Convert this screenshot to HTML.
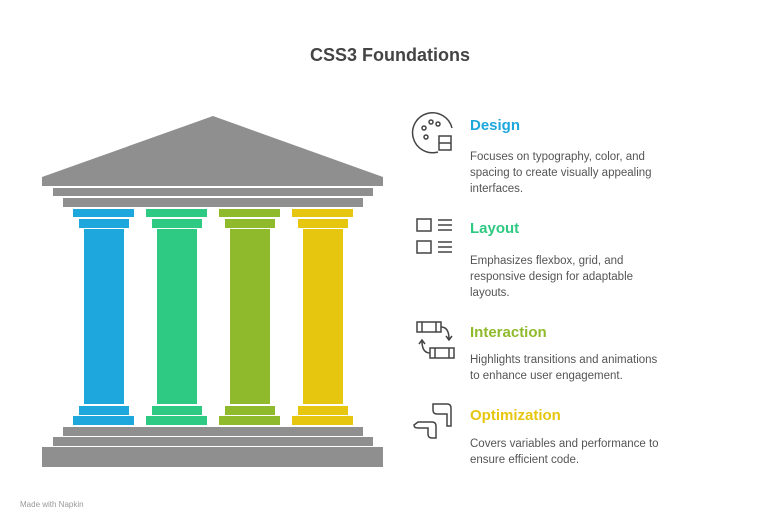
<!DOCTYPE html>
<html><head><meta charset="utf-8"><style>
body{margin:0;width:780px;height:530px;background:#fff;overflow:hidden;font-family:"Liberation Sans",sans-serif;position:relative}
.t{position:absolute;white-space:nowrap}
.h{font-weight:bold;font-size:15px}
.d{font-size:11.5px;color:#555;line-height:16px}
</style></head><body>
<svg width="780" height="530" style="position:absolute;left:0;top:0">
<g fill="#8f8f8f">
<polygon points="213,116 383,177 383,186 42,186 42,177"/>
<rect x="53" y="188" width="320" height="8"/>
<rect x="63" y="198" width="300" height="9"/>
<rect x="63" y="427" width="300" height="9"/>
<rect x="53" y="437" width="320" height="9"/>
<rect x="42" y="447" width="341" height="20"/>
</g>
<g id="c">
</g>
<g fill="#1ea7dc"><rect x="73" y="209" width="61" height="8"/><rect x="79" y="219" width="50" height="9"/><rect x="84" y="229" width="40" height="175"/><rect x="79" y="406" width="50" height="9"/><rect x="73" y="416" width="61" height="9"/></g>
<g fill="#2ec982" transform="translate(73,0)"><rect x="73" y="209" width="61" height="8"/><rect x="79" y="219" width="50" height="9"/><rect x="84" y="229" width="40" height="175"/><rect x="79" y="406" width="50" height="9"/><rect x="73" y="416" width="61" height="9"/></g>
<g fill="#8fba2c" transform="translate(146,0)"><rect x="73" y="209" width="61" height="8"/><rect x="79" y="219" width="50" height="9"/><rect x="84" y="229" width="40" height="175"/><rect x="79" y="406" width="50" height="9"/><rect x="73" y="416" width="61" height="9"/></g>
<g fill="#e6c60e" transform="translate(219,0)"><rect x="73" y="209" width="61" height="8"/><rect x="79" y="219" width="50" height="9"/><rect x="84" y="229" width="40" height="175"/><rect x="79" y="406" width="50" height="9"/><rect x="73" y="416" width="61" height="9"/></g>
<g fill="none" stroke="#444" stroke-width="1.5">
<path d="M438 152 A20 20 0 1 1 452 128"/>
<circle cx="424" cy="128" r="2"/><circle cx="431" cy="122" r="2"/><circle cx="438" cy="124" r="2"/><circle cx="426" cy="137" r="2"/>
<rect x="439" y="136" width="12" height="14"/><line x1="439" y1="143" x2="451" y2="143"/>
<rect x="417" y="219" width="14" height="12"/><rect x="417" y="241" width="14" height="12"/>
<path d="M438 220h14M438 225h14M438 230h14M438 242h14M438 247h14M438 252h14"/>
<rect x="417" y="322" width="24" height="10"/><line x1="422" y1="322" x2="422" y2="332"/><line x1="436" y1="322" x2="436" y2="332"/>
<rect x="430" y="348" width="24" height="10"/><line x1="435" y1="348" x2="435" y2="358"/><line x1="449" y1="348" x2="449" y2="358"/>
<path d="M441 327 q8 0 8 12 M446 336 l3 4 3-4"/>
<path d="M430 353 q-8 0 -8 -12 M419 344 l3-4 3 4"/>
<path d="M433 404 h14 q4 0 4 4 v18 h-4 v-12 h-10 q-4 0-4-4z"/>
<path d="M418 422 h14 q4 0 4 4 v12 h-4 q-4 0-4-4 v-6 h-10 q-4 0-4-3z"/>
</g>
</svg>
<div class="t" style="left:0;width:780px;text-align:center;top:45px;font-size:18px;font-weight:bold;color:#444">CSS3 Foundations</div>
<div class="t h" style="left:470px;top:117px;color:#1ea7dc">Design</div>
<div class="t d" style="left:470px;top:149px">Focuses on typography, color, and<br>spacing to create visually appealing<br>interfaces.</div>
<div class="t h" style="left:470px;top:220px;color:#2ec982">Layout</div>
<div class="t d" style="left:470px;top:253px">Emphasizes flexbox, grid, and<br>responsive design for adaptable<br>layouts.</div>
<div class="t h" style="left:470px;top:324px;color:#8fba2c">Interaction</div>
<div class="t d" style="left:470px;top:352px">Highlights transitions and animations<br>to enhance user engagement.</div>
<div class="t h" style="left:470px;top:407px;color:#e6c60e">Optimization</div>
<div class="t d" style="left:470px;top:436px">Covers variables and performance to<br>ensure efficient code.</div>
<div class="t" style="left:20px;top:500px;font-size:8px;color:#999">Made with Napkin</div>
</body></html>
